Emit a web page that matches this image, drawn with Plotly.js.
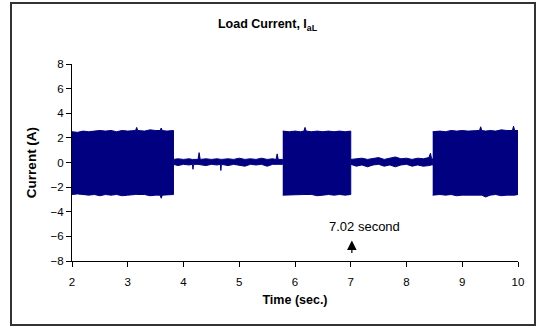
<!DOCTYPE html>
<html><head><meta charset="utf-8">
<script src="https://cdn.plot.ly/plotly-3.0.1.min.js"></script>
<style>html,body{margin:0;padding:0;background:#fff}#c{width:536px;height:327px}</style>
</head><body><div id="c"></div>
<script>
// Envelope of the oscillating load current during the three bursts (time s, current A)
const burst1T  = [2.00, 2.10, 2.20, 2.30, 2.40, 2.50, 2.60, 2.70, 2.80, 2.90, 3.00, 3.10, 3.14, 3.16, 3.18, 3.30, 3.40, 3.50, 3.58, 3.60, 3.62, 3.70, 3.82];
const burst1Hi = [2.50, 2.45, 2.55, 2.50, 2.55, 2.60, 2.55, 2.60, 2.50, 2.60, 2.55, 2.60, 2.60, 2.85, 2.60, 2.55, 2.65, 2.60, 2.60, 2.80, 2.60, 2.55, 2.60];
const burst1Lo = [-2.60, -2.55, -2.60, -2.65, -2.60, -2.70, -2.60, -2.65, -2.60, -2.70, -2.65, -2.60, -2.60, -2.60, -2.65, -2.60, -2.70, -2.65, -2.65, -2.90, -2.65, -2.60, -2.60];

const burst2T  = [5.78, 5.90, 6.00, 6.10, 6.16, 6.18, 6.20, 6.30, 6.40, 6.50, 6.60, 6.70, 6.80, 6.90, 7.00];
const burst2Hi = [2.55, 2.50, 2.55, 2.50, 2.55, 2.85, 2.55, 2.50, 2.55, 2.50, 2.55, 2.50, 2.55, 2.50, 2.55];
const burst2Lo = [-2.65, -2.60, -2.65, -2.60, -2.60, -2.60, -2.65, -2.60, -2.70, -2.65, -2.60, -2.65, -2.60, -2.65, -2.60];

const burst3T  = [8.47, 8.60, 8.70, 8.80, 8.90, 9.00, 9.10, 9.20, 9.31, 9.33, 9.35, 9.42, 9.50, 9.60, 9.70, 9.80, 9.90, 9.92, 9.94, 10.00];
const burst3Hi = [2.50, 2.55, 2.50, 2.60, 2.55, 2.60, 2.55, 2.60, 2.60, 2.90, 2.60, 2.55, 2.60, 2.55, 2.65, 2.60, 2.60, 2.95, 2.60, 2.60];
const burst3Lo = [-2.65, -2.60, -2.65, -2.60, -2.70, -2.65, -2.60, -2.65, -2.65, -2.65, -2.65, -2.80, -2.65, -2.60, -2.70, -2.65, -2.60, -2.65, -2.65, -2.60];

// Low-level current between bursts (upper / lower extent of the noise)
const quiet1T  = [3.82, 3.90, 4.00, 4.10, 4.16, 4.17, 4.18, 4.26, 4.28, 4.30, 4.40, 4.50, 4.60, 4.66, 4.67, 4.68, 4.80, 4.90, 5.00, 5.10, 5.20, 5.30, 5.40, 5.50, 5.60, 5.66, 5.68, 5.70, 5.78];
const quiet1Hi = [0.25, 0.30, 0.25, 0.30, 0.25, 0.25, 0.25, 0.25, 0.80, 0.25, 0.30, 0.25, 0.30, 0.25, 0.25, 0.25, 0.30, 0.25, 0.35, 0.25, 0.30, 0.25, 0.35, 0.25, 0.30, 0.25, 0.70, 0.25, 0.25];
const quiet1Lo = [-0.15, -0.25, -0.15, -0.20, -0.15, -0.55, -0.15, -0.15, -0.15, -0.15, -0.25, -0.15, -0.20, -0.15, -0.65, -0.15, -0.25, -0.15, -0.20, -0.30, -0.15, -0.20, -0.15, -0.30, -0.15, -0.15, -0.15, -0.15, -0.15];

const quiet2T  = [7.00, 7.10, 7.20, 7.30, 7.40, 7.50, 7.60, 7.70, 7.80, 7.90, 8.00, 8.10, 8.20, 8.30, 8.40, 8.43, 8.45, 8.47];
const quiet2Hi = [0.25, 0.30, 0.35, 0.25, 0.30, 0.40, 0.25, 0.35, 0.45, 0.30, 0.35, 0.25, 0.35, 0.30, 0.40, 0.75, 0.30, 0.30];
const quiet2Lo = [-0.15, -0.30, -0.20, -0.35, -0.20, -0.15, -0.30, -0.20, -0.35, -0.20, -0.15, -0.30, -0.20, -0.30, -0.25, -0.20, -0.20, -0.20];

const navy = '#000080';
function band(t, hi, lo) {
  return {
    x: t.concat(t.slice().reverse()),
    y: hi.concat(lo.slice().reverse()),
    type: 'scatter', mode: 'lines', fill: 'toself',
    fillcolor: navy, line: {color: navy, width: 1}, hoverinfo: 'skip'
  };
}
const data = [
  band(burst1T, burst1Hi, burst1Lo),
  band(burst2T, burst2Hi, burst2Lo),
  band(burst3T, burst3Hi, burst3Lo),
  band(quiet1T, quiet1Hi, quiet1Lo),
  band(quiet2T, quiet2Hi, quiet2Lo)
];

const markTime = 7.02;
const font = 'Liberation Sans, Arial, sans-serif';
const L = 72, R = 18, T = 64, B = 66, W = 536, H = 327;
const pw = W - L - R, ph = H - T - B;
const px = v => (v - L) / pw;
const py = v => (H - B - v) / ph;

const layout = {
  width: W, height: H,
  margin: {l: L, r: R, t: T, b: B, pad: 0},
  paper_bgcolor: '#fff', plot_bgcolor: '#fff',
  showlegend: false,
  font: {family: font, size: 11.5, color: '#000'},
  title: {text: '<b>Load Current, I<sub>aL</sub></b>', font: {family: font, size: 12.5, color: '#000'},
          xref: 'container', x: 267.5 / W, xanchor: 'center', yref: 'container', y: 1 - 24/H, yanchor: 'middle'},
  xaxis: {
    range: [2, 10], dtick: 1, tick0: 2, ticks: 'outside', ticklen: 5, tickcolor: '#000',
    showline: true, linecolor: '#000', linewidth: 1, showgrid: false, zeroline: false,
    ticklabelstandoff: 5,
    tickfont: {family: font, size: 11.5, color: '#000'},
    title: {text: '<b>Time (sec.)</b>', font: {family: font, size: 12.5, color: '#000'}, standoff: 8}
  },
  yaxis: {
    range: [-8, 8], dtick: 2, ticks: 'outside', ticklen: 5, tickcolor: '#000',
    showline: true, linecolor: '#000', linewidth: 1, showgrid: false, zeroline: false,
    tickfont: {family: font, size: 11.5, color: '#000'},
    title: {text: '<b>Current (A)</b>', font: {family: font, size: 13.5, color: '#000'}, standoff: 10}
  },
  annotations: [
    {x: markTime, y: -5.2, xref: 'x', yref: 'y', text: markTime.toFixed(2) + ' second', showarrow: false,
     xshift: 13, font: {family: font, size: 13, color: '#000'}},
    {x: markTime, y: -6.33, xref: 'x', yref: 'y', text: '', showarrow: true, arrowhead: 2, arrowsize: 1.6,
     arrowwidth: 1.2, arrowcolor: '#000', ax: 0, ay: 14}
  ],
  shapes: [
    {type: 'rect', xref: 'paper', yref: 'paper', x0: px(11), x1: px(535), y0: py(325), y1: py(3),
     line: {color: '#333', width: 2}, fillcolor: 'rgba(0,0,0,0)', layer: 'above'}
  ]
};
Plotly.newPlot('c', data, layout, {staticPlot: true, displayModeBar: false});
</script></body></html>
